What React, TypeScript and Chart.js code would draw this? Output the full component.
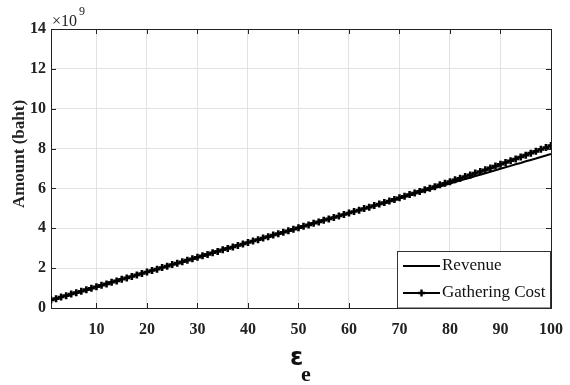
import React, { useEffect, useRef } from "react";
import { Chart, registerables } from "chart.js";

Chart.register(...registerables);

const categories = [
  1, 2, 3, 4, 5, 6, 7, 8, 9, 10, 11, 12, 13, 14, 15, 16, 17, 18, 19, 20,
  21, 22, 23, 24, 25, 26, 27, 28, 29, 30, 31, 32, 33, 34, 35, 36, 37, 38, 39, 40,
  41, 42, 43, 44, 45, 46, 47, 48, 49, 50, 51, 52, 53, 54, 55, 56, 57, 58, 59, 60,
  61, 62, 63, 64, 65, 66, 67, 68, 69, 70, 71, 72, 73, 74, 75, 76, 77, 78, 79, 80,
  81, 82, 83, 84, 85, 86, 87, 88, 89, 90, 91, 92, 93, 94, 95, 96, 97, 98, 99, 100,
];

// values in units of 10^9 baht
const revenue = [
  0.40, 0.47, 0.55, 0.62, 0.70, 0.77, 0.84, 0.92, 0.99, 1.07,
  1.14, 1.21, 1.29, 1.36, 1.44, 1.51, 1.58, 1.66, 1.73, 1.81,
  1.88, 1.95, 2.03, 2.10, 2.18, 2.25, 2.32, 2.40, 2.47, 2.55,
  2.62, 2.69, 2.77, 2.84, 2.92, 2.99, 3.06, 3.14, 3.21, 3.29,
  3.36, 3.43, 3.51, 3.58, 3.66, 3.73, 3.80, 3.88, 3.95, 4.03,
  4.10, 4.17, 4.25, 4.32, 4.40, 4.47, 4.54, 4.62, 4.69, 4.77,
  4.84, 4.91, 4.99, 5.06, 5.14, 5.21, 5.28, 5.36, 5.43, 5.51,
  5.58, 5.65, 5.73, 5.80, 5.88, 5.95, 6.02, 6.10, 6.17, 6.25,
  6.32, 6.39, 6.47, 6.54, 6.62, 6.69, 6.76, 6.84, 6.91, 6.99,
  7.06, 7.13, 7.21, 7.28, 7.36, 7.43, 7.50, 7.58, 7.65, 7.73,
];

const gatheringCost = [
  0.40, 0.47, 0.55, 0.62, 0.70, 0.77, 0.84, 0.92, 0.99, 1.07,
  1.14, 1.21, 1.29, 1.36, 1.44, 1.51, 1.58, 1.66, 1.73, 1.81,
  1.88, 1.95, 2.03, 2.10, 2.18, 2.25, 2.32, 2.40, 2.47, 2.55,
  2.62, 2.69, 2.77, 2.84, 2.92, 2.99, 3.06, 3.14, 3.21, 3.29,
  3.36, 3.43, 3.51, 3.58, 3.66, 3.73, 3.80, 3.88, 3.95, 4.03,
  4.10, 4.17, 4.25, 4.32, 4.40, 4.47, 4.54, 4.62, 4.69, 4.77,
  4.84, 4.91, 4.99, 5.06, 5.14, 5.22, 5.29, 5.37, 5.45, 5.53,
  5.61, 5.69, 5.77, 5.85, 5.93, 6.01, 6.09, 6.18, 6.26, 6.34,
  6.43, 6.51, 6.60, 6.68, 6.77, 6.85, 6.94, 7.03, 7.12, 7.21,
  7.30, 7.39, 7.48, 7.58, 7.67, 7.77, 7.86, 7.96, 8.05, 8.15,
];

const xTicks = [10, 20, 30, 40, 50, 60, 70, 80, 90, 100];
const yTicks = [0, 2, 4, 6, 8, 10, 12, 14];
const seriesNames = ["Revenue", "Gathering Cost"];

const SERIF = '"Liberation Serif", "Times New Roman", serif';

const decorPlugin = {
  id: "decor",
  afterDraw(chart: any) {
    const { ctx, chartArea } = chart;
    const { left, right, top, bottom } = chartArea;
    const xs = chart.scales.x;
    const ys = chart.scales.y;
    ctx.save();
    // top and right box lines
    ctx.strokeStyle = "#222";
    ctx.lineWidth = 1;
    ctx.beginPath();
    ctx.moveTo(left, top + 0.5);
    ctx.lineTo(right + 0.5, top + 0.5);
    ctx.lineTo(right + 0.5, bottom);
    ctx.stroke();
    // inward ticks
    const tl = 5;
    ctx.beginPath();
    xTicks.forEach((v) => {
      const px = Math.round(xs.getPixelForValue(v)) + 0.5;
      ctx.moveTo(px, bottom);
      ctx.lineTo(px, bottom - tl);
      ctx.moveTo(px, top);
      ctx.lineTo(px, top + tl);
    });
    yTicks.forEach((v) => {
      const py = Math.round(ys.getPixelForValue(v)) + 0.5;
      ctx.moveTo(left, py);
      ctx.lineTo(left + tl, py);
      ctx.moveTo(right, py);
      ctx.lineTo(right - tl, py);
    });
    ctx.stroke();

    // exponent label
    ctx.fillStyle = "#222";
    ctx.textBaseline = "alphabetic";
    ctx.textAlign = "left";
    ctx.font = `16px ${SERIF}`;
    ctx.fillText("\u00d710", 52, 26);
    ctx.font = `12px ${SERIF}`;
    ctx.fillText("9", 79, 15);

    // y title
    ctx.save();
    ctx.translate(20, 154);
    ctx.rotate(-Math.PI / 2);
    ctx.textAlign = "center";
    ctx.textBaseline = "middle";
    ctx.font = `bold 17px ${SERIF}`;
    ctx.fillStyle = "#222";
    ctx.fillText("Amount (baht)", 0, 0);
    ctx.restore();

    // x title: epsilon with subscript e
    ctx.fillStyle = "#111";
    ctx.textAlign = "left";
    ctx.textBaseline = "alphabetic";
    ctx.font = 'bold 24px "DejaVu Sans", sans-serif';
    ctx.fillText("\u03b5", 290, 365);
    ctx.font = `bold 22px ${SERIF}`;
    ctx.fillText("e", 301, 381);

    // legend
    const bx = 397.5, by = 251.5, bw = 153, bh = 56.5;
    ctx.fillStyle = "#fff";
    ctx.fillRect(bx, by, bw, bh);
    ctx.strokeStyle = "#333";
    ctx.lineWidth = 1;
    ctx.strokeRect(bx, by, bw, bh);
    ctx.strokeStyle = "#000";
    ctx.lineWidth = 2;
    const rows = [266, 293];
    rows.forEach((yy) => {
      ctx.beginPath();
      ctx.moveTo(403, yy);
      ctx.lineTo(440, yy);
      ctx.stroke();
    });
    // marker (+)
    ctx.lineWidth = 2.4;
    ctx.beginPath();
    ctx.moveTo(421.5, 293 - 3.5);
    ctx.lineTo(421.5, 293 + 3.5);
    ctx.moveTo(418, 293);
    ctx.lineTo(425, 293);
    ctx.stroke();
    ctx.font = `17px ${SERIF}`;
    ctx.fillStyle = "#111";
    ctx.textBaseline = "middle";
    ctx.fillText(seriesNames[0], 442, 266);
    ctx.fillText(seriesNames[1], 442, 293);
    ctx.restore();
  },
};

export default function App() {
  const ref = useRef<HTMLCanvasElement>(null);
  useEffect(() => {
    document.body.style.margin = "0";
    const canvas = ref.current!;
    const chart = new Chart(canvas, {
      type: "line",
      data: {
        datasets: [
          {
            label: seriesNames[0],
            data: categories.map((x, i) => ({ x, y: revenue[i] })),
            borderColor: "#000",
            borderWidth: 2,
            pointRadius: 0,
            tension: 0,
            order: 2,
          },
          {
            label: seriesNames[1],
            data: categories.map((x, i) => ({ x, y: gatheringCost[i] })),
            borderColor: "#000",
            backgroundColor: "#000",
            borderWidth: 2,
            pointStyle: "cross",
            pointRadius: 3.5,
            pointBorderWidth: 2.6,
            pointBackgroundColor: "#000",
            pointBorderColor: "#000",
            tension: 0,
            order: 1,
          },
        ],
      },
      options: {
        responsive: false,
        animation: false,
        devicePixelRatio: 1,
        layout: { padding: { top: 29, right: 19, left: 0, bottom: 0 } },
        plugins: {
          legend: { display: false },
          tooltip: { enabled: false },
        },
        scales: {
          x: {
            type: "linear",
            min: 1,
            max: 100,
            afterBuildTicks: (s: any) => {
              s.ticks = xTicks.map((v) => ({ value: v }));
            },
            afterFit: (s: any) => {
              s.height = 77;
              s.paddingLeft = 0;
              s.paddingRight = 0;
            },
            grid: { color: "#e2e2e2", lineWidth: 1, drawTicks: false },
            border: { display: true, color: "#222", width: 1 },
            ticks: {
              color: "#222",
              padding: 12,
              maxRotation: 0,
              font: { family: SERIF, size: 16, weight: "bold" },
            },
          },
          y: {
            min: 0,
            max: 14,
            afterBuildTicks: (s: any) => {
              s.ticks = yTicks.map((v) => ({ value: v }));
            },
            afterFit: (s: any) => {
              s.width = 51;
              s.paddingTop = 0;
              s.paddingBottom = 0;
            },
            grid: { color: "#e2e2e2", lineWidth: 1, drawTicks: false },
            border: { display: true, color: "#222", width: 1 },
            ticks: {
              color: "#222",
              padding: 5,
              font: { family: SERIF, size: 16, weight: "bold" },
            },
          },
        },
      },
      plugins: [decorPlugin],
    });
    return () => chart.destroy();
  }, []);
  return <canvas ref={ref} width={570} height={385} style={{ display: "block" }} />;
}
